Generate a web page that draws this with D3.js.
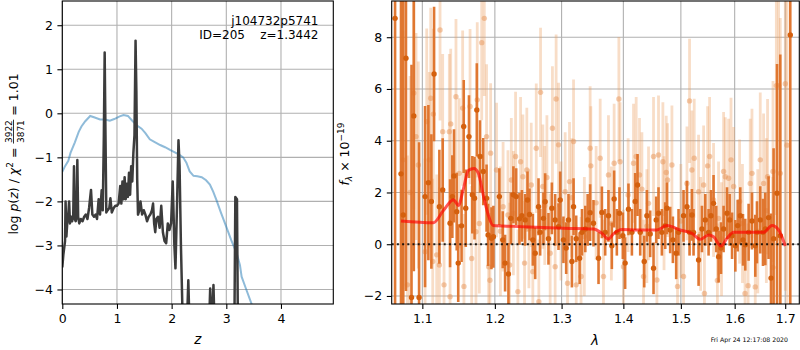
<!DOCTYPE html>
<html><head><meta charset="utf-8">
<script src="https://cdn.jsdelivr.net/npm/d3@7"></script>
<style>
body{margin:0;background:#fff}
svg{font-family:"DejaVu Sans",sans-serif}
text{white-space:pre}
</style>
</head><body>
<svg id="c" width="800" height="350"></svg>
<script>
// ---------- Left panel: log p(z) ----------
const pzZ = [0,0.02,0.05,0.06,0.075,0.09,0.11,0.125,0.14,0.16,0.18,0.2,0.214,0.228,0.245,0.26,0.275,0.29,0.31,0.34,0.37,0.40,0.43,0.46,0.49,0.525,0.55,0.58,0.61,0.635,0.665,0.69,0.72,0.74,0.76,0.775,0.79,0.805,0.83,0.86,0.88,0.905,0.94,0.97,1.0,1.03,1.06,1.08,1.10,1.12,1.14,1.16,1.18,1.20,1.22,1.24,1.26,1.28,1.30,1.32,1.34,1.355,1.37,1.385,1.41,1.43,1.46,1.49,1.52,1.55,1.58,1.61,1.64,1.66,1.68,1.70,1.72,1.75,1.78,1.81,1.84,1.87,1.90,1.93,1.96,1.99,2.02,2.05,2.07,2.10,2.125,2.145,2.17,2.20,2.25,2.29,2.305,2.32,2.36,2.50,2.65,2.69,2.705,2.72,2.745,2.765,2.78,2.85,3.0,3.12,3.15,3.165,3.195,3.21,3.25,3.5,4.0,4.96];
const pzLog = [-3.5,-3.2,-2.9,-2.0,-2.8,-2.5,-2.3,-2.0,-2.5,-2.35,-2.45,-2.3,-1.2,-2.4,-2.45,-2.35,-1.06,-2.35,-2.5,-2.4,-2.45,-2.35,-2.3,-2.4,-2.15,-1.74,-2.3,-2.35,-2.3,-2.4,-1.95,-2.3,-1.75,-2.2,-0.5,1.38,-0.5,-2.25,-2.2,-2.15,-1.93,-2.25,-2.15,-2.1,-2.1,-2.05,-1.65,-2.05,-1.55,-1.95,-1.45,-1.95,-1.6,-1.9,-1.35,-1.85,-1.2,-1.55,-0.9,-0.5,1.65,0.5,-1.5,-2.3,-2.2,-2.0,-2.3,-2.2,-2.3,-2.45,-2.35,-2.3,-2.2,-2.05,-2.5,-2.7,-2.4,-2.35,-2.6,-2.1,-2.7,-2.9,-2.95,-2.5,-2.65,-2.5,-1.55,-3.0,-3.52,-2.0,-0.61,-1.2,-3.0,-4.6,-5.5,-4.4,-3.79,-4.5,-5.8,-6.5,-6.0,-4.6,-3.98,-4.6,-4.5,-3.9,-4.6,-6.5,-7,-6,-4.5,-1.9,-1.95,-4.5,-6.5,-8,-9,-10];
const priorZ = [0,0.05,0.11,0.15,0.23,0.30,0.35,0.42,0.51,0.58,0.69,0.78,0.87,0.95,1.05,1.12,1.2,1.28,1.36,1.45,1.52,1.60,1.70,1.79,1.88,1.97,2.05,2.13,2.21,2.27,2.33,2.40,2.47,2.55,2.63,2.70,2.76,2.82,2.90,3.0,3.09,3.19,3.25,3.28,3.35,3.46,3.6];
const priorLog = [-1.33,-1.2,-1.08,-0.9,-0.66,-0.42,-0.30,-0.18,-0.06,-0.09,-0.14,-0.14,-0.17,-0.13,-0.07,-0.04,-0.06,-0.17,-0.27,-0.35,-0.45,-0.59,-0.66,-0.72,-0.77,-0.83,-0.88,-0.93,-1.0,-1.12,-1.32,-1.42,-1.43,-1.45,-1.52,-1.62,-1.78,-1.97,-2.25,-2.58,-2.88,-3.18,-3.45,-3.71,-3.95,-4.32,-4.8];
const zTicks = [0,1,2,3,4];
const lpTicks = [-4,-3,-2,-1,0,1,2];

// ---------- Right panel: spectrum ----------
const darkWave = [1.0646,1.0722,1.0751,1.0786,1.0858,1.0888,1.0957,1.1036,1.1080,1.1120,
1.1156,1.1227,1.1272,1.1372,1.1403,1.1426,1.1463,1.1484,1.1530,1.1560,
1.1588,1.1633,1.1680,1.1711,1.1743,1.1789,1.1834,1.1881,1.1903,1.1951,
1.1979,1.2065,1.2114,1.2148,1.2197,1.2232,1.2270,1.2311,1.2359,1.2395,
1.2444,1.2479,1.2509,1.2559,1.2595,1.2645,1.2670,1.2720,1.2746,1.2797,
1.2849,1.2900,1.2952,1.2978,1.3029,1.3072,1.3108,1.3162,1.3188,1.3230,
1.3284,1.3322,1.3375,1.3413,1.3453,1.3507,1.3589,1.3644,1.3698,1.3752,
1.3808,1.3846,1.3891,1.3935,1.3991,1.4030,1.4086,1.4144,1.4200,1.4240,
1.4286,1.4355,1.4401,1.4458,1.4516,1.4563,1.4603,1.4662,1.4721,1.4751,
1.4809,1.4857,1.4916,1.4958,1.5048,1.5110,1.5157,1.5200,1.5230,1.5322,
1.5384,1.5446,1.5507,1.5552,1.5600,1.5651,1.5694,1.5740,1.5789,1.5854,
1.5904,1.5950,1.6013,1.6058,1.6108,1.6160,1.6205,1.6270,1.6336,1.6401,
1.6434,1.6499,1.6553,1.6599,1.6664,1.6713,1.6765,1.6834,1.6900,1.7104];
const darkFlux = [8.73,2.72,1.13,7.19,-2.06,4.96,-2.06,1.84,2.38,1.65,
6.58,1.45,2.10,0.81,1.84,2.64,1.26,-0.73,0.71,4.55,
1.39,4.16,1.91,1.78,5.19,3.39,2.81,1.78,0.36,0.23,
0.29,1.84,0.17,-0.73,-1.15,1.00,1.91,1.84,0.98,1.10,
0.94,1.71,1.15,0.17,-0.35,1.45,0.46,1.00,1.64,0.21,
1.39,0.94,0.68,1.71,0.17,-0.15,0.94,-0.67,1.45,0.21,
-0.54,0.46,0.59,0.94,1.22,0.81,-0.54,1.23,0.46,1.10,
-0.06,1.75,0.46,1.20,0.33,-0.73,1.35,0.46,1.65,2.29,
0.46,-0.67,1.10,0.40,-0.93,0.94,1.20,0.46,0.72,1.39,
0.55,0.17,-0.35,0.46,1.10,1.45,0.46,1.13,0.46,-0.61,
0.59,0.94,0.46,1.10,1.58,0.59,-0.48,-0.15,0.59,1.20,
0.94,0.33,-0.06,0.72,1.10,0.17,-0.02,0.46,0.90,-0.06,
0.46,0.94,0.46,0.59,1.03,-1.31,0.21,1.97,0.33,8.09];
const darkErr = [14,12,11,9,9,6,6,3.5,3.0,2.6,
2.6,2.2,2.0,1.7,1.6,1.8,1.5,1.5,1.4,1.8,
1.5,1.6,1.5,1.6,1.8,1.4,1.3,1.3,1.2,1.2,
1.2,1.1,1.1,1.1,1.2,1.0,1.1,1.1,1.0,1.0,
1.0,1.1,1.0,1.0,1.0,1.1,0.9,1.0,1.1,1.0,
1.0,1.0,0.9,1.1,0.9,1.0,1.0,1.0,1.1,0.9,
1.0,0.9,0.9,1.0,1.1,0.9,1.0,1.0,0.9,1.0,
0.9,1.1,0.9,1.0,0.9,1.0,1.0,0.9,1.1,1.2,
0.9,1.0,1.0,0.9,1.0,0.9,1.0,0.9,0.9,1.0,
0.9,0.9,1.0,0.9,1.0,1.0,0.9,1.0,0.9,1.0,
0.9,1.0,0.9,1.0,1.1,0.9,1.0,1.0,0.9,1.0,
1.0,0.9,1.0,1.0,1.1,1.0,1.0,1.1,1.1,1.2,
1.2,1.3,1.3,1.4,1.6,2.5,3.5,5,7,14];

const lightWave = [1.0748,1.0805,1.0839,1.0888,1.0917,1.0947,1.1036,1.1058,1.1093,1.1111,
1.1138,1.1146,1.1191,1.1227,1.1236,1.1272,1.1290,1.1362,1.1372,1.1381,
1.1453,1.1498,1.1545,1.1563,1.1648,1.1671,1.1731,1.1749,1.1778,1.1812,
1.1849,1.1881,1.1911,1.1929,1.1939,1.2024,1.2080,1.2119,1.2190,1.2214,
1.2239,1.2270,1.2302,1.2336,1.2376,1.2410,1.2435,1.2469,1.2500,1.2535,
1.2559,1.2611,1.2650,1.2676,1.2711,1.2740,1.2773,1.2823,1.2858,1.2900,
1.2915,1.2952,1.2990,1.3056,1.3093,1.3124,1.3160,1.3188,1.3230,1.3307,
1.3360,1.3453,1.3464,1.3550,1.3616,1.3670,1.3752,1.3800,1.3846,1.3925,
1.3945,1.4002,1.4080,1.4172,1.4217,1.4274,1.4315,1.4343,1.4400,1.4429,
1.4516,1.4575,1.4603,1.4680,1.4700,1.4739,1.4762,1.4840,1.4940,1.5000,
1.5048,1.5110,1.5157,1.5200,1.5242,1.5322,1.5360,1.5415,1.5430,1.5489,
1.5526,1.5600,1.5672,1.5694,1.5750,1.5789,1.5821,1.5884,1.5930,1.5980,
1.6095,1.6150,1.6200,1.6260,1.6302,1.6336,1.6400,1.6450,1.6499,1.6565,
1.6620,1.6644,1.6750,1.6753,1.6820,1.6866,1.6900,1.7002,1.7037];
const lightFlux = [3.26,-1.57,2.00,5.84,4.16,3.06,-0.29,4.74,3.26,5.64,
-0.67,5.03,-0.41,-0.80,8.28,4.35,-1.57,4.35,-2.03,4.65,
5.70,2.74,5.26,-1.63,5.32,-0.55,0.48,5.58,0.80,7.79,
8.73,4.16,-0.87,-1.39,3.52,2.87,0.50,1.45,1.13,-0.80,
2.48,1.20,3.39,-1.83,3.19,2.61,-0.73,2.87,0.60,2.29,
-1.06,3.71,-2.22,5.87,2.23,1.50,2.58,-0.35,4.48,-0.87,
5.61,3.84,0.90,2.03,-1.51,2.42,1.80,3.97,-1.57,-1.25,
0.30,3.71,3.03,1.60,3.32,-1.25,2.68,0.80,3.13,5.61,
3.19,-0.87,1.90,3.13,3.39,2.68,2.13,-1.25,0.70,1.58,
3.39,-1.38,3.45,3.19,1.20,2.77,2.48,3.06,-1.63,0.90,
-1.25,2.35,5.54,2.87,3.32,2.03,0.40,2.29,-1.90,3.03,
3.39,1.71,-1.40,1.00,0.20,2.81,2.61,2.55,3.26,2.23,
1.65,0.80,-1.90,-1.60,2.35,2.74,-1.65,0.50,3.26,2.35,
1.30,2.61,-0.90,2.81,6.13,6.13,2.74,6.20,3.83];
const lightErr = [5,5,4.5,4.5,4,4,3.6,3.6,3.4,3.5,
3.2,3.3,3.1,3.0,3.5,3.0,3.0,3.0,3.0,2.9,
3.0,2.9,3.0,2.8,3.0,2.8,2.8,3.0,2.7,3.0,
3.0,2.8,2.7,2.6,2.7,2.6,2.5,2.5,2.5,2.4,
2.4,2.4,2.5,2.4,2.5,2.4,2.4,2.4,2.3,2.4,
2.3,2.5,2.4,2.5,2.4,2.3,2.4,2.3,2.4,2.3,
2.5,2.4,2.3,2.3,2.3,2.3,2.3,2.4,2.3,2.3,
2.3,2.4,2.3,2.2,2.3,2.2,2.3,2.2,2.3,2.4,
2.3,2.2,2.2,2.3,2.3,2.2,2.2,2.2,2.2,2.2,
2.3,2.2,2.3,2.3,2.2,2.2,2.2,2.3,2.2,2.2,
2.2,2.2,2.4,2.3,2.3,2.2,2.2,2.3,2.2,2.3,
2.3,2.2,2.2,2.2,2.2,2.3,2.3,2.3,2.4,2.3,
2.4,2.3,2.4,2.4,2.5,2.5,2.5,2.4,2.6,2.7,
2.8,3.0,3.5,3.5,5,6,6,8,8];

const modelWave = [1.0722,1.1146,1.1281,1.1418,1.1486,1.1556,1.1624,1.1704,1.1764,1.1834,1.1903,1.1975,1.2270,1.3029,1.3507,1.3644,1.3752,1.3834,1.3977,1.4228,1.4575,1.4751,1.4988,1.5200,1.5353,1.5507,1.5600,1.5740,1.5854,1.5980,1.6565,1.6734,1.6866,1.7002];
const modelFlux = [0.90,0.83,1.30,1.72,1.50,2.15,2.85,2.93,2.75,1.90,1.15,0.72,0.69,0.62,0.59,0.42,0.20,0.40,0.57,0.55,0.55,0.72,0.55,0.42,0.19,0.36,0.29,-0.07,0.23,0.46,0.46,0.72,0.55,-0.07];
const lamTicks = [1.1,1.2,1.3,1.4,1.5,1.6,1.7];
const fTicks = [-2,0,2,4,6,8];

// ---------- drawing ----------
const svg = d3.select("#c");
const FS = 12.5;
const gridCol = "#b0b0b0";

function panel(x, y, xTicks, yTicks, xFmt, yFmt, id) {
  const g = svg.append("g");
  const [x0,x1] = x.range(), [y1,y0] = y.range();
  svg.append("clipPath").attr("id", id).append("rect")
    .attr("x", x0).attr("y", y0).attr("width", x1-x0).attr("height", y1-y0);
  g.selectAll(".gx").data(xTicks).join("line")
    .attr("x1", d=>x(d)).attr("x2", d=>x(d)).attr("y1", y0).attr("y2", y1)
    .attr("stroke", gridCol).attr("stroke-width", 1.1);
  g.selectAll(".gy").data(yTicks).join("line")
    .attr("y1", d=>y(d)).attr("y2", d=>y(d)).attr("x1", x0).attr("x2", x1)
    .attr("stroke", gridCol).attr("stroke-width", 1.1);
  const ax = svg.append("g").attr("transform", `translate(0,${y1})`)
    .call(d3.axisBottom(x).tickValues(xTicks).tickFormat(xFmt).tickSize(4.9).tickPadding(5.5));
  const ay = svg.append("g").attr("transform", `translate(${x0},0)`)
    .call(d3.axisLeft(y).tickValues(yTicks).tickFormat(yFmt).tickSize(4.9).tickPadding(4.5));
  [ax, ay].forEach(a => {
    a.select(".domain").remove();
    a.selectAll("text").attr("font-size", FS).attr("font-family", "DejaVu Sans").attr("fill", "#000");
    a.selectAll("line").attr("stroke", "#000").attr("stroke-width", 1.1);
  });
  const content = svg.append("g").attr("clip-path", `url(#${id})`);
  const frame = () => svg.append("rect").attr("x", x0).attr("y", y0)
    .attr("width", x1-x0).attr("height", y1-y0)
    .attr("fill", "none").attr("stroke", "#000").attr("stroke-width", 1.1);
  return {content, frame};
}

// Left panel
const xz = d3.scaleLinear().domain([0, 4.957]).range([62.3, 333.3]);
const ylp = d3.scaleLinear().domain([-4.33, 2.55]).range([304, 1]);
const P1 = panel(xz, ylp, zTicks, lpTicks, d3.format("d"), d3.format("d"), "clipL");
const lineL = d3.line().x(d=>xz(d[0])).y(d=>ylp(d[1]));
P1.content.append("path").datum(d3.zip(priorZ, priorLog)).attr("d", lineL)
  .attr("fill","none").attr("stroke","#1f77b4").attr("stroke-opacity",0.5).attr("stroke-width",2);
P1.content.append("path").datum(d3.zip(pzZ, pzLog)).attr("d", lineL)
  .attr("fill","none").attr("stroke","#3c3c3c").attr("stroke-width",2.5)
  .attr("stroke-linejoin","round");
P1.frame();

svg.append("text").attr("x", 318.5).attr("y", 25).attr("text-anchor","end")
  .attr("font-size", 12).text("j104732p5741");
svg.append("text").attr("x", 318.5).attr("y", 39).attr("text-anchor","end")
  .attr("font-size", 12).text("ID=205    z=1.3442");

// Right panel
const xl = d3.scaleLog().domain([1.0603, 1.729]).range([391.7, 799.3]);
const yf = d3.scaleLinear().domain([-2.31, 9.40]).range([304, 1]);
const P2 = panel(xl, yf, lamTicks, fTicks, d3.format(".1f"), d3.format("d"), "clipR");
const C = P2.content;
const light = d3.zip(lightWave, lightFlux, lightErr);
const dark = d3.zip(darkWave, darkFlux, darkErr);
C.append("g").selectAll("line").data(light).join("line")
  .attr("x1", d=>xl(d[0])).attr("x2", d=>xl(d[0]))
  .attr("y1", d=>yf(d[1]-d[2])).attr("y2", d=>yf(d[1]+d[2]))
  .attr("stroke", "#eb9a5c").attr("stroke-opacity", 0.34).attr("stroke-width", 2.8);
C.append("g").selectAll("circle").data(light).join("circle")
  .attr("cx", d=>xl(d[0])).attr("cy", d=>yf(d[1])).attr("r", 2.7)
  .attr("fill", "#e8955a").attr("fill-opacity", 0.5);
C.append("g").selectAll("line").data(dark).join("line")
  .attr("x1", d=>xl(d[0])).attr("x2", d=>xl(d[0]))
  .attr("y1", d=>yf(d[1]-d[2])).attr("y2", d=>yf(d[1]+d[2]))
  .attr("stroke", "#de7128").attr("stroke-opacity", 0.95).attr("stroke-width", 2.6);
C.append("g").selectAll("circle").data(dark).join("circle")
  .attr("cx", d=>xl(d[0])).attr("cy", d=>yf(d[1])).attr("r", 2.7)
  .attr("fill", "#d4600e");
C.append("line").attr("x1", xl.range()[0]).attr("x2", xl.range()[1])
  .attr("y1", yf(0)).attr("y2", yf(0))
  .attr("stroke", "#000").attr("stroke-opacity", 0.85).attr("stroke-width", 2)
  .attr("stroke-dasharray", "2,3.2");
C.append("path").datum(d3.zip(modelWave, modelFlux))
  .attr("d", d3.line().x(d=>xl(d[0])).y(d=>yf(d[1])).curve(d3.curveMonotoneX))
  .attr("fill","none").attr("stroke","#ff0000").attr("stroke-opacity",0.65)
  .attr("stroke-width",3).attr("stroke-linejoin","round");
P2.frame();

// Axis labels
svg.append("text").attr("x", 197.7).attr("y", 344).attr("text-anchor","middle")
  .attr("font-size", FS+1).attr("font-style","italic").text("z");
svg.append("text").attr("x", 595).attr("y", 345).attr("text-anchor","middle")
  .attr("font-size", FS+1).attr("font-style","italic").text("λ");

// sequential text helper (in a rotated group)
function seq(g, parts) {
  let x = 0;
  parts.forEach(p => {
    if (p.frac) {
      const fs = 9;
      const n = g.append("text").attr("font-size", fs).attr("text-anchor","middle").text(p.frac[0]);
      const d = g.append("text").attr("font-size", fs).attr("text-anchor","middle").text(p.frac[1]);
      const w = Math.max(n.node().getComputedTextLength(), d.node().getComputedTextLength()) + 1;
      n.attr("x", x + w/2).attr("y", -5.5);
      d.attr("x", x + w/2).attr("y", 6.5);
      g.append("line").attr("x1", x).attr("x2", x + w).attr("y1", -4).attr("y2", -4)
        .attr("stroke", "#000").attr("stroke-width", 0.8);
      x += w;
      return;
    }
    const t = g.append("text").attr("x", x).attr("y", p.dy || 0)
      .attr("font-size", p.size || FS).attr("font-style", p.it ? "italic" : null).text(p.t);
    x += t.node().getComputedTextLength();
  });
  return x;
}
function rotLabel(cx, cy, parts) {
  const outer = svg.append("g").attr("transform", `translate(${cx},${cy}) rotate(-90)`);
  const inner = outer.append("g");
  const w = seq(inner, parts);
  inner.attr("transform", `translate(${-w/2},0)`);
}
rotLabel(17.5, 154, [
  {t:"log "}, {t:"p", it:true}, {t:"("}, {t:"z", it:true}, {t:") / "},
  {t:"χ", it:true}, {t:"2", size:9, dy:-5}, {t:" = "},
  {frac:["3922","3871"]}, {t:" = 1.01"}
]);
rotLabel(349, 154, [
  {t:"f", it:true}, {t:"λ", it:true, size:9, dy:3}, {t:" × 10"}, {t:"−19", size:9, dy:-5}
]);

svg.append("text").attr("x", 788).attr("y", 342).attr("text-anchor","end")
  .attr("font-size", 6.2).text("Fri Apr 24 12:17:08 2020");
</script>
</body></html>
